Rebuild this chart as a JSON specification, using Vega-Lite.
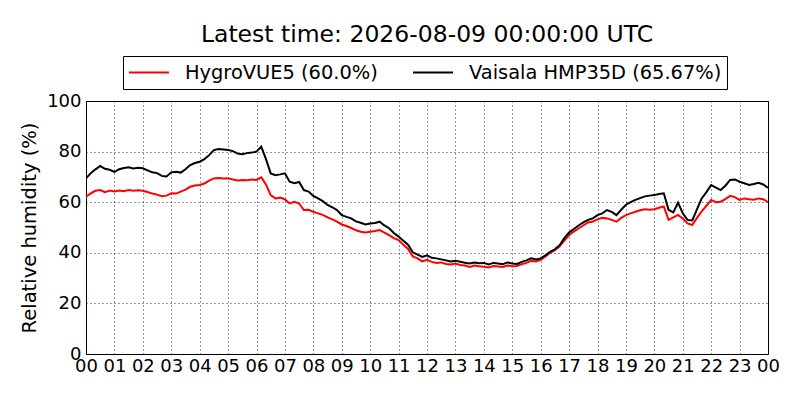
{
  "$schema": "https://vega.github.io/schema/vega-lite/v6.json",
  "description": "Relative humidity, HygroVUE5 vs Vaisala HMP35D, minutes after 2026-08-08 00:00 UTC",
  "autosize": "none",
  "width": 682,
  "height": 253,
  "padding": {"left": 86, "top": 101, "right": 32, "bottom": 46},
  "background": "white",
  "title": {
    "text": "Latest time: 2026-08-09 00:00:00 UTC",
    "font": "DejaVu Sans",
    "fontSize": 23.5,
    "fontWeight": "normal",
    "color": "black",
    "anchor": "middle",
    "offset": 9
  },
  "data": {
    "values": [
      {"m": 0, "h": 62.2, "v": 69.4},
      {"m": 10, "h": 63.5, "v": 71.5},
      {"m": 20, "h": 64.5, "v": 73.0},
      {"m": 30, "h": 64.8, "v": 74.3},
      {"m": 40, "h": 64.0, "v": 73.2},
      {"m": 50, "h": 64.6, "v": 72.8},
      {"m": 60, "h": 64.2, "v": 72.0},
      {"m": 70, "h": 64.6, "v": 73.0},
      {"m": 80, "h": 64.3, "v": 73.5},
      {"m": 90, "h": 64.8, "v": 73.8},
      {"m": 100, "h": 64.5, "v": 73.3},
      {"m": 110, "h": 64.7, "v": 73.6},
      {"m": 120, "h": 64.5, "v": 73.4},
      {"m": 130, "h": 64.0, "v": 72.6},
      {"m": 140, "h": 63.4, "v": 71.8},
      {"m": 150, "h": 63.0, "v": 71.5},
      {"m": 160, "h": 62.4, "v": 70.4},
      {"m": 170, "h": 62.6, "v": 70.2},
      {"m": 180, "h": 63.5, "v": 71.8},
      {"m": 190, "h": 63.4, "v": 72.0},
      {"m": 200, "h": 64.2, "v": 71.7},
      {"m": 210, "h": 65.0, "v": 73.0},
      {"m": 220, "h": 66.1, "v": 74.7},
      {"m": 230, "h": 66.6, "v": 75.5},
      {"m": 240, "h": 66.8, "v": 76.0},
      {"m": 250, "h": 67.4, "v": 77.0},
      {"m": 260, "h": 68.5, "v": 78.6},
      {"m": 270, "h": 69.4, "v": 80.6},
      {"m": 280, "h": 69.6, "v": 81.0},
      {"m": 290, "h": 69.4, "v": 80.8},
      {"m": 300, "h": 69.5, "v": 80.6},
      {"m": 310, "h": 69.0, "v": 80.2},
      {"m": 320, "h": 68.6, "v": 79.2},
      {"m": 330, "h": 68.8, "v": 79.0},
      {"m": 340, "h": 68.7, "v": 79.4},
      {"m": 350, "h": 69.0, "v": 79.6},
      {"m": 360, "h": 68.8, "v": 80.0},
      {"m": 370, "h": 69.8, "v": 82.0},
      {"m": 380, "h": 67.0, "v": 77.0},
      {"m": 390, "h": 62.8, "v": 71.4},
      {"m": 400, "h": 61.5, "v": 70.7},
      {"m": 410, "h": 61.8, "v": 71.0},
      {"m": 420, "h": 61.1, "v": 71.4},
      {"m": 430, "h": 59.5, "v": 68.1},
      {"m": 440, "h": 60.2, "v": 67.5},
      {"m": 450, "h": 59.5, "v": 68.0},
      {"m": 460, "h": 56.9, "v": 64.8},
      {"m": 470, "h": 57.0, "v": 64.2},
      {"m": 480, "h": 56.2, "v": 62.5},
      {"m": 490, "h": 55.6, "v": 61.5},
      {"m": 500, "h": 55.0, "v": 60.4},
      {"m": 510, "h": 54.0, "v": 58.9},
      {"m": 520, "h": 53.2, "v": 58.0},
      {"m": 530, "h": 52.3, "v": 56.9},
      {"m": 540, "h": 51.2, "v": 54.9},
      {"m": 550, "h": 50.6, "v": 54.2},
      {"m": 560, "h": 49.8, "v": 53.6},
      {"m": 570, "h": 48.9, "v": 52.4},
      {"m": 580, "h": 48.3, "v": 51.9},
      {"m": 590, "h": 48.0, "v": 51.2},
      {"m": 600, "h": 48.3, "v": 51.6},
      {"m": 610, "h": 48.6, "v": 51.8},
      {"m": 620, "h": 49.0, "v": 52.3},
      {"m": 630, "h": 48.0, "v": 50.8},
      {"m": 640, "h": 47.0, "v": 49.7},
      {"m": 650, "h": 45.8, "v": 47.8},
      {"m": 660, "h": 45.0, "v": 46.4},
      {"m": 670, "h": 43.2, "v": 44.8},
      {"m": 680, "h": 41.5, "v": 43.2},
      {"m": 690, "h": 38.6, "v": 40.2},
      {"m": 700, "h": 37.8, "v": 39.3},
      {"m": 710, "h": 36.6, "v": 38.4},
      {"m": 720, "h": 37.2, "v": 39.0},
      {"m": 730, "h": 36.4, "v": 38.0},
      {"m": 740, "h": 36.0, "v": 37.8},
      {"m": 750, "h": 36.2, "v": 37.4},
      {"m": 760, "h": 35.6, "v": 37.0},
      {"m": 770, "h": 35.4, "v": 36.6},
      {"m": 780, "h": 35.8, "v": 36.9},
      {"m": 790, "h": 35.2, "v": 36.5},
      {"m": 800, "h": 35.0, "v": 36.1},
      {"m": 810, "h": 34.4, "v": 35.8},
      {"m": 820, "h": 35.0, "v": 36.2},
      {"m": 830, "h": 34.7, "v": 35.9},
      {"m": 840, "h": 34.5, "v": 36.0},
      {"m": 850, "h": 34.2, "v": 35.4},
      {"m": 860, "h": 34.8, "v": 36.0},
      {"m": 870, "h": 34.6, "v": 35.8},
      {"m": 880, "h": 34.4, "v": 35.5},
      {"m": 890, "h": 35.0, "v": 36.2},
      {"m": 900, "h": 34.7, "v": 35.8},
      {"m": 910, "h": 34.8, "v": 35.6},
      {"m": 920, "h": 35.5, "v": 36.4},
      {"m": 930, "h": 36.0, "v": 37.0},
      {"m": 940, "h": 36.8, "v": 37.8},
      {"m": 950, "h": 36.6, "v": 37.4},
      {"m": 960, "h": 37.2, "v": 37.8},
      {"m": 970, "h": 38.6, "v": 39.0},
      {"m": 980, "h": 40.0, "v": 40.4},
      {"m": 990, "h": 41.0, "v": 41.4},
      {"m": 1000, "h": 42.6, "v": 43.0},
      {"m": 1010, "h": 44.8, "v": 45.8},
      {"m": 1020, "h": 47.0, "v": 48.0},
      {"m": 1030, "h": 48.4, "v": 49.4},
      {"m": 1040, "h": 49.6, "v": 50.8},
      {"m": 1050, "h": 50.8, "v": 52.0},
      {"m": 1060, "h": 52.0, "v": 53.0},
      {"m": 1070, "h": 52.4, "v": 53.6},
      {"m": 1080, "h": 53.2, "v": 54.9},
      {"m": 1090, "h": 53.8, "v": 55.6},
      {"m": 1100, "h": 53.6, "v": 56.9},
      {"m": 1110, "h": 53.0, "v": 56.2},
      {"m": 1120, "h": 52.3, "v": 54.9},
      {"m": 1130, "h": 53.8, "v": 57.0},
      {"m": 1140, "h": 54.9, "v": 59.0},
      {"m": 1150, "h": 55.6, "v": 60.0},
      {"m": 1160, "h": 56.2, "v": 60.9},
      {"m": 1170, "h": 56.8, "v": 61.6},
      {"m": 1180, "h": 57.2, "v": 62.3},
      {"m": 1190, "h": 57.0, "v": 62.6},
      {"m": 1200, "h": 57.2, "v": 62.8},
      {"m": 1210, "h": 57.8, "v": 63.2},
      {"m": 1220, "h": 58.3, "v": 63.5},
      {"m": 1230, "h": 53.0, "v": 57.0},
      {"m": 1240, "h": 54.0, "v": 56.0},
      {"m": 1250, "h": 55.0, "v": 59.8},
      {"m": 1260, "h": 53.6, "v": 55.6},
      {"m": 1270, "h": 51.6, "v": 53.0},
      {"m": 1280, "h": 51.0, "v": 52.8},
      {"m": 1290, "h": 53.8, "v": 57.2},
      {"m": 1300, "h": 56.4, "v": 61.5},
      {"m": 1310, "h": 58.6, "v": 64.0},
      {"m": 1320, "h": 60.9, "v": 66.8},
      {"m": 1330, "h": 60.0, "v": 65.8},
      {"m": 1340, "h": 60.2, "v": 64.8},
      {"m": 1350, "h": 61.2, "v": 66.5},
      {"m": 1360, "h": 62.5, "v": 68.8},
      {"m": 1370, "h": 62.0, "v": 69.0},
      {"m": 1380, "h": 60.9, "v": 68.1},
      {"m": 1390, "h": 61.5, "v": 67.5},
      {"m": 1400, "h": 61.2, "v": 66.8},
      {"m": 1410, "h": 61.0, "v": 67.2},
      {"m": 1420, "h": 61.5, "v": 67.7},
      {"m": 1430, "h": 61.2, "v": 67.0},
      {"m": 1440, "h": 60.0, "v": 65.67}
    ]
  },
  "transform": [{"fold": ["h", "v"], "as": ["sensor", "rh"]}],
  "mark": {"type": "line", "strokeWidth": 2, "clip": true},
  "encoding": {
    "x": {
      "field": "m",
      "type": "quantitative",
      "title": null,
      "scale": {"domain": [0, 1440], "nice": false, "zero": false},
      "axis": {
        "values": [0, 60, 120, 180, 240, 300, 360, 420, 480, 540, 600, 660, 720, 780, 840, 900, 960, 1020, 1080, 1140, 1200, 1260, 1320, 1380, 1440],
        "labelExpr": "(floor(datum.value / 60) % 24 < 10 ? '0' : '') + (floor(datum.value / 60) % 24)",
        "labelOverlap": false,
        "labelFlush": false,
        "labelPadding": 3
      }
    },
    "y": {
      "field": "rh",
      "type": "quantitative",
      "title": "Relative humidity (%)",
      "scale": {"domain": [0, 100], "nice": false},
      "axis": {"values": [0, 20, 40, 60, 80, 100], "labelPadding": 5, "titlePadding": 7}
    },
    "color": {
      "field": "sensor",
      "type": "nominal",
      "scale": {"domain": ["h", "v"], "range": ["#ff0000", "#000000"]},
      "legend": {
        "title": null,
        "orient": "none",
        "legendX": 37,
        "legendY": -45,
        "direction": "horizontal",
        "labelExpr": "datum.value == 'h' ? 'HygroVUE5 (60.0%)' : 'Vaisala HMP35D (65.67%)'",
        "symbolType": "stroke",
        "symbolSize": 1600,
        "symbolStrokeWidth": 2,
        "labelFontSize": 19.4,
        "labelFont": "DejaVu Sans",
        "labelColor": "black",
        "labelLimit": 400,
        "labelOffset": 15,
        "columnPadding": 34,
        "clipHeight": 23,
        "padding": 5,
        "strokeColor": "black",
        "fillColor": "white"
      }
    }
  },
  "config": {
    "font": "DejaVu Sans",
    "view": {"stroke": "black", "strokeWidth": 1},
    "axis": {
      "labelFont": "DejaVu Sans",
      "labelFontSize": 18,
      "labelColor": "black",
      "titleFont": "DejaVu Sans",
      "titleFontSize": 19.5,
      "titleFontWeight": "normal",
      "titleColor": "black",
      "ticks": false,
      "domain": false,
      "grid": true,
      "gridColor": "black",
      "gridDash": [1, 3],
      "gridWidth": 1,
      "gridOpacity": 0.8
    }
  }
}
